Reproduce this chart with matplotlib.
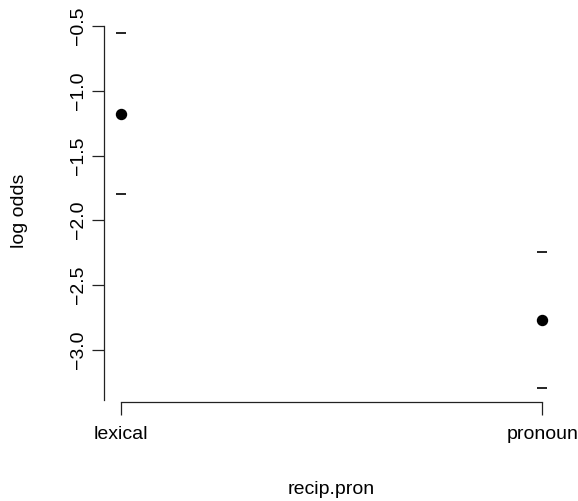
import matplotlib
matplotlib.use("Agg")
import matplotlib.pyplot as plt

categories = ["lexical", "pronoun"]
estimate = [-1.18, -2.77]
upper = [-0.555, -2.245]
lower = [-1.80, -3.295]
yticks = [-3.0, -2.5, -2.0, -1.5, -1.0, -0.5]

plt.rcParams['font.family'] = ['Liberation Sans', 'DejaVu Sans']
fig = plt.figure(figsize=(5.78, 5.01), dpi=100)
ax = fig.add_axes([104/578, (501-402)/501, (559-104)/578, (402-19)/501])

x = list(range(1, len(categories) + 1))
ax.plot(x, estimate, 'o', color='black', markersize=7.2, linestyle='none')
ax.plot(x, upper, '_', color='black', markersize=7, mew=1.2, linestyle='none')
ax.plot(x, lower, '_', color='black', markersize=7, mew=1.2, linestyle='none')

ax.set_xlim(0.96, 2.04)
ax.set_ylim(-3.405, -0.445)
ax.set_xticks(x)
ax.set_xticklabels(categories, fontsize=14)
ax.set_yticks(yticks)
ax.set_yticklabels([f"{v:.1f}".replace('-', '\u2212') for v in yticks], fontsize=14, rotation=90, va='center')

for s in ['top', 'right']:
    ax.spines[s].set_visible(False)
ax.spines['left'].set_bounds(-3.39, -0.5)
ax.spines['bottom'].set_bounds(1, 2)
for s in ['left', 'bottom']:
    ax.spines[s].set_linewidth(0.9)
    ax.spines[s].set_color('#222222')
ax.tick_params(axis='both', length=9, width=0.9, color='#222222')
ax.tick_params(axis='y', pad=3)
ax.tick_params(axis='x', pad=8)

ax.set_xlabel("recip.pron", fontsize=14, labelpad=28)
ax.set_ylabel("log odds", fontsize=14, va='center')
ax.yaxis.set_label_coords((20 - 104) / 455, 0.5)

fig.savefig("out.png", dpi=100)
